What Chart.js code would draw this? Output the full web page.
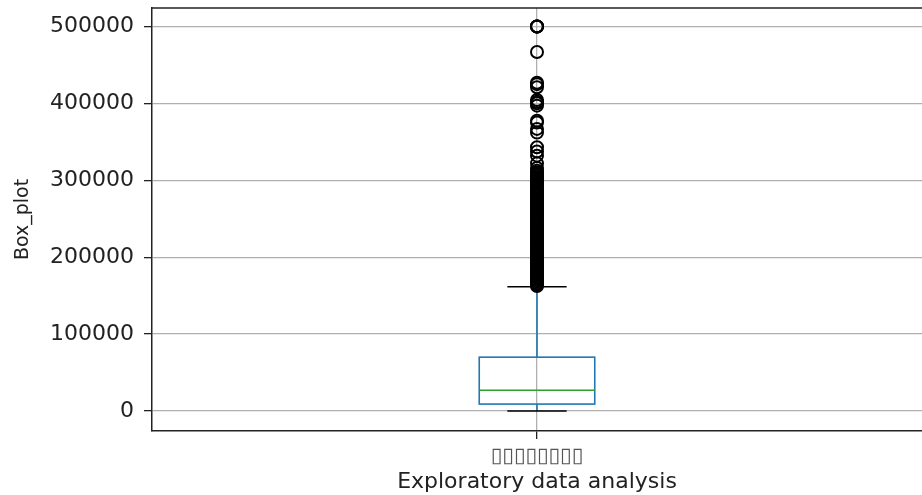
<!DOCTYPE html>
<html>
<head>
<meta charset="utf-8">
<script src="https://cdn.jsdelivr.net/npm/chart.js@4.4.1/dist/chart.umd.min.js"></script>
<style>
  html, body { margin: 0; padding: 0; background: #fff; overflow: hidden; }
  canvas { display: block; }
</style>
</head>
<body>
<canvas id="chart" width="922" height="495"></canvas>
<script>
// box statistics
const categoryLabel = "▯▯▯▯▯▯▯▯";
const whiskerLow = [0];
const q1 = [9000];
const median = [27000];
const q3 = [70000];
const whiskerHigh = [161500];
const yTicks = [0, 100000, 200000, 300000, 400000, 500000];

// fliers above the upper whisker
const outliers = [
    500001, 500001, 500000, 500000, 466700, 426900, 425000, 421000, 404500, 402000,
    400000, 397000, 377500, 375000, 366800, 362000, 343000, 337500, 332000, 322000,
    316000, 312500, 310000, 308500, 306000, 304000, 302500, 300000, 298000, 296000,
    294500, 292000, 290000, 288000, 286500, 284000, 282000, 280000, 278500, 276000,
    274000, 272000, 270000, 268500, 266000, 264000, 262500, 260000, 258000, 256000,
    254500, 252000, 250000, 248000, 246500, 244000, 242000, 240000, 238500, 236000,
    234000, 232000, 230000, 228500, 226000, 224000, 222000, 220000, 218500, 216000,
    214000, 212000, 210000, 208500, 206000, 204000, 202000, 200000, 198500, 196000,
    194000, 192000, 190000, 188500, 186000, 184000, 182000, 180000, 178500, 176000,
    174000, 172000, 170000, 168500, 166000, 164000, 162500
];

const boxWidth = 0.15;   // in x units
const capWidth = 0.077;

const boxPlugin = {
    id: "boxPlugin",
    beforeDatasetsDraw(chart) {
        const ctx = chart.ctx;
        const x = chart.scales.x;
        const y = chart.scales.y;
        for (let i = 0; i < q1.length; i++) {
            const c = i + 1;
            const xl = x.getPixelForValue(c - boxWidth / 2);
            const xr = x.getPixelForValue(c + boxWidth / 2);
            const xc = x.getPixelForValue(c);
            const cl = x.getPixelForValue(c - capWidth / 2);
            const cr = x.getPixelForValue(c + capWidth / 2);
            ctx.save();
            ctx.lineWidth = 1.6;
            // whiskers
            ctx.strokeStyle = "#1f77b4";
            ctx.beginPath();
            ctx.moveTo(xc, y.getPixelForValue(q3[i]));
            ctx.lineTo(xc, y.getPixelForValue(whiskerHigh[i]));
            ctx.moveTo(xc, y.getPixelForValue(q1[i]));
            ctx.lineTo(xc, y.getPixelForValue(whiskerLow[i]));
            ctx.stroke();
            // box
            ctx.strokeRect(xl, y.getPixelForValue(q3[i]), xr - xl,
                y.getPixelForValue(q1[i]) - y.getPixelForValue(q3[i]));
            // caps
            ctx.strokeStyle = "#000";
            ctx.beginPath();
            ctx.moveTo(cl, y.getPixelForValue(whiskerHigh[i]));
            ctx.lineTo(cr, y.getPixelForValue(whiskerHigh[i]));
            ctx.moveTo(cl, y.getPixelForValue(whiskerLow[i]));
            ctx.lineTo(cr, y.getPixelForValue(whiskerLow[i]));
            ctx.stroke();
            // median
            ctx.strokeStyle = "#2ca02c";
            ctx.beginPath();
            ctx.moveTo(xl, y.getPixelForValue(median[i]));
            ctx.lineTo(xr, y.getPixelForValue(median[i]));
            ctx.stroke();
            ctx.restore();
        }
    },
    afterDraw(chart) {
        // top spine
        const a = chart.chartArea;
        const ctx = chart.ctx;
        ctx.save();
        ctx.strokeStyle = "#222";
        ctx.lineWidth = 1.5;
        ctx.beginPath();
        ctx.moveTo(a.left, a.top);
        ctx.lineTo(a.right, a.top);
        ctx.stroke();
        ctx.restore();
    }
};

new Chart("chart", {
    type: "scatter",
    data: {
        datasets: [{
            label: "outliers",
            data: outliers.map(v => ({x: 1, y: v})),
            pointStyle: "circle",
            pointRadius: 6,
            pointHoverRadius: 6,
            borderWidth: 2,
            borderColor: "#000",
            backgroundColor: "rgba(0,0,0,0)"
        }]
    },
    options: {
        responsive: false,
        animation: false,
        events: [],
        layout: {autoPadding: false, padding: {top: 8, right: 0, left: 0, bottom: 0}},
        plugins: {
            legend: {display: false},
            tooltip: {enabled: false}
        },
        scales: {
            x: {
                type: "linear",
                min: 0.5,
                max: 1.5,
                afterBuildTicks: s => { s.ticks = [{value: 1}]; },
                afterFit: s => { s.height = 64; s.paddingLeft = 0; s.paddingRight = 0; },
                ticks: {
                    callback: () => categoryLabel,
                    color: "#555",
                    font: {family: "DejaVu Sans", size: 21},
                    padding: 5,
                    maxRotation: 0
                },
                grid: {color: "#b0b0b0", lineWidth: 1.3, tickColor: "#222", tickLength: 8},
                border: {display: true, color: "#222", width: 1.5},
                title: {
                    display: true,
                    text: "Exploratory data analysis",
                    color: "#222",
                    font: {family: "DejaVu Sans", size: 22},
                    padding: {top: 0, bottom: 0}
                }
            },
            y: {
                min: -26000,
                max: 524000,
                afterBuildTicks: s => { s.ticks = yTicks.map(v => ({value: v})); },
                afterFit: s => { s.width = 152; s.paddingTop = 0; s.paddingBottom = 0; },
                ticks: {
                    callback: v => String(v),
                    color: "#222",
                    font: {family: "DejaVu Sans", size: 22},
                    padding: 10
                },
                grid: {color: "#b0b0b0", lineWidth: 1.3, tickColor: "#222", tickLength: 8},
                border: {display: true, color: "#222", width: 1.5},
                title: {
                    display: true,
                    text: "Box_plot",
                    color: "#222",
                    font: {family: "DejaVu Sans", size: 19},
                    padding: {top: 12, bottom: 0}
                }
            }
        }
    },
    plugins: [boxPlugin]
});
</script>
</body>
</html>
